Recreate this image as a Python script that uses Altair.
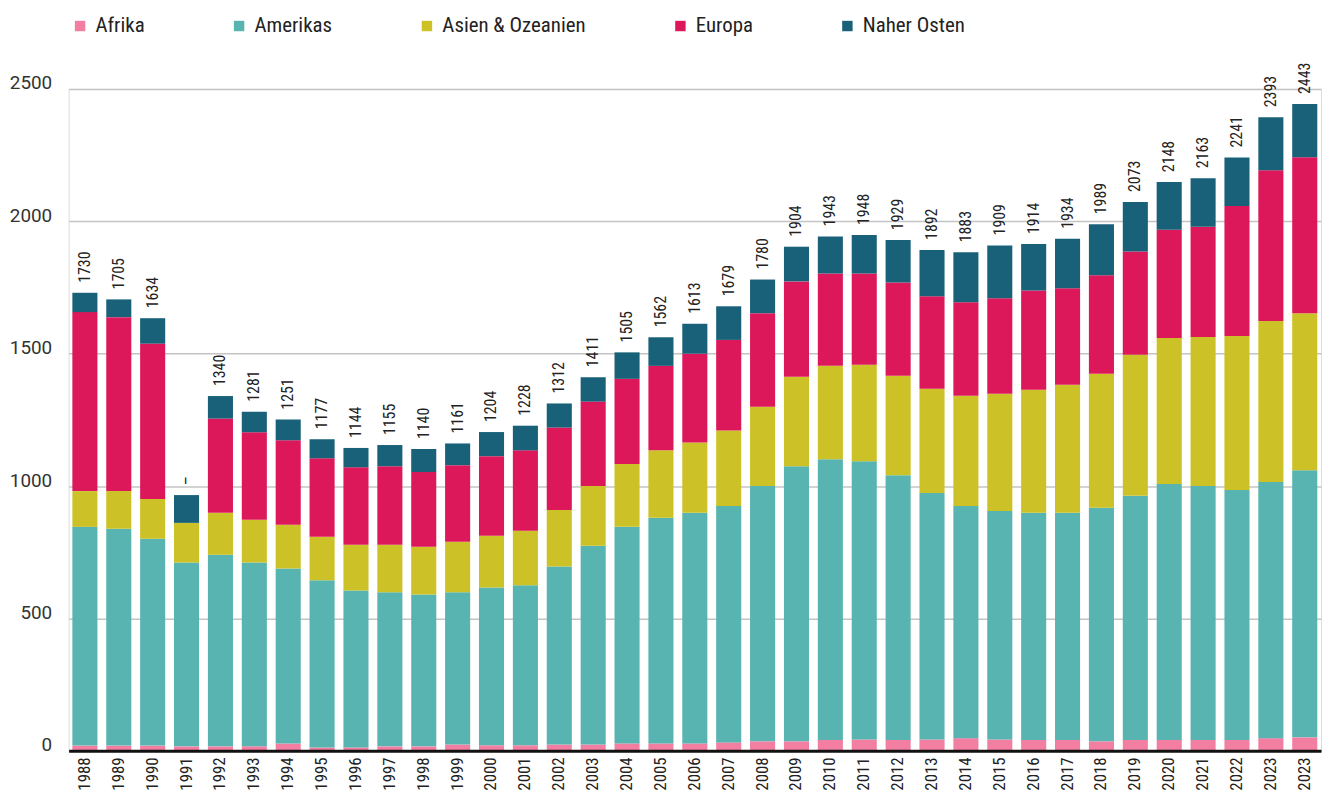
import altair as alt
import pandas as pd

NARROW = "Liberation Sans Narrow, Roboto Condensed, DejaVu Sans Condensed, Liberation Sans, sans-serif"

years = ["1988", "1989", "1990", "1991", "1992", "1993", "1994", "1995", "1996", "1997",
         "1998", "1999", "2000", "2001", "2002", "2003", "2004", "2005", "2006", "2007",
         "2008", "2009", "2010", "2011", "2012", "2013", "2014", "2015", "2016", "2017",
         "2018", "2019", "2020", "2021", "2022", "2023", "2023"]

afrika = [20, 20, 20, 17, 17, 17, 28, 13, 13, 17, 17, 24, 21, 21, 24, 24, 28, 28, 28, 32,
          36, 36, 41, 43, 41, 43, 48, 43, 41, 41, 36, 41, 41, 41, 41, 48, 51]
amerikas = [826, 819, 781, 694, 724, 694, 661, 631, 593, 582, 574, 575, 596, 604, 672, 751,
            818, 852, 871, 893, 964, 1039, 1060, 1051, 1000, 931, 877, 863, 858, 858, 882,
            922, 967, 959, 944, 967, 1009]
asien = [135, 142, 150, 150, 158, 162, 165, 165, 172, 179, 180, 191, 195, 206, 214, 225,
         237, 255, 266, 285, 300, 338, 353, 364, 376, 394, 416, 443, 465, 484, 506, 533,
         551, 563, 582, 608, 593]
europa = [676, 657, 587, None, 356, 330, 319, 296, 293, 297, 282, 289, 301, 304, 311, 319,
          322, 319, 335, 342, 353, 360, 349, 345, 352, 349, 353, 360, 375, 364, 372, 390,
          409, 416, 491, 570, 589]
naher_osten = [73, 67, 96, 105, 85, 78, 78, 72, 73, 80, 87, 82, 91, 93, 91, 92, 100, 108,
               113, 127, 127, 131, 140, 145, 160, 175, 189, 200, 175, 187, 193, 187, 180,
               184, 183, 200, 201]
total_labels = ["1730", "1705", "1634", "–", "1340", "1281", "1251", "1177", "1144", "1155",
                "1140", "1161", "1204", "1228", "1312", "1411", "1505", "1562", "1613", "1679",
                "1780", "1904", "1943", "1948", "1929", "1892", "1883", "1909", "1914", "1934",
                "1989", "2073", "2148", "2163", "2241", "2393", "2443"]

regions = ["Afrika", "Amerikas", "Asien & Ozeanien", "Europa", "Naher Osten"]
colors = ["#F27EA2", "#58B4B0", "#CCC227", "#DC185A", "#186179"]

# unique category keys (the last label repeats "2023")
keys = []
seen = {}
for y in years:
    n = seen.get(y, 0)
    keys.append(y + ("b" * n))
    seen[y] = n + 1

series = [afrika, amerikas, asien, europa, naher_osten]
rows = []
for ri, (name, vals) in enumerate(zip(regions, series)):
    for k, v in zip(keys, vals):
        if v is not None:
            rows.append({"key": k, "region": name, "value": v, "ord": ri})
df = pd.DataFrame(rows)

totals = df.groupby("key", sort=False)["value"].sum()
df_tot = pd.DataFrame({"key": keys,
                       "total": [int(totals[k]) for k in keys],
                       "label": total_labels})

x_enc = alt.X(
    "key:N", sort=keys,
    scale=alt.Scale(paddingInner=0.26, paddingOuter=0.11),
    axis=alt.Axis(title=None, labelExpr="slice(datum.label, 0, 4)", labelAngle=270,
                  labelFont=NARROW, labelFontSize=17, labelColor="#222", labelPadding=6,
                  ticks=False, domainColor="#111", domainWidth=3, grid=False, zindex=1),
)

bars = alt.Chart(df).mark_bar().encode(
    x=x_enc,
    y=alt.Y("value:Q", stack="zero",
            scale=alt.Scale(domain=[0, 2500], nice=False),
            axis=alt.Axis(title=None, values=[0, 500, 1000, 1500, 2000, 2500], format="d",
                          labelFont="Roboto", labelFontSize=19, labelColor="#333",
                          labelBaseline="alphabetic", labelPadding=17, ticks=False,
                          domain=False, gridColor="#c4c4c4", gridWidth=1.5)),
    color=alt.Color("region:N",
                    scale=alt.Scale(domain=regions, range=colors),
                    legend=alt.Legend(orient="none", legendX=1, legendY=-74,
                                      direction="horizontal", title=None,
                                      symbolType="square", symbolSize=110,
                                      symbolStrokeWidth=0, labelFont=NARROW,
                                      labelFontSize=21, labelColor="#222",
                                      columnPadding=84, labelOffset=5, padding=0)),
    order=alt.Order("ord:Q", sort="ascending"),
)

labels = alt.Chart(df_tot).mark_text(
    angle=270, align="left", baseline="middle", dx=10,
    font=NARROW, fontSize=16, color="#222",
).encode(
    x=alt.X("key:N", sort=keys),
    y=alt.Y("total:Q"),
    text="label:N",
)

chart = alt.layer(bars, labels).properties(
    width=1260, height=666,
    padding={"left": 61, "top": 79, "right": 2, "bottom": 39},
    autosize=alt.AutoSizeParams(type="none"),
).configure_view(stroke=None).configure(background="white")

chart.save("out.html", embed_options={"renderer": "svg", "actions": False})
